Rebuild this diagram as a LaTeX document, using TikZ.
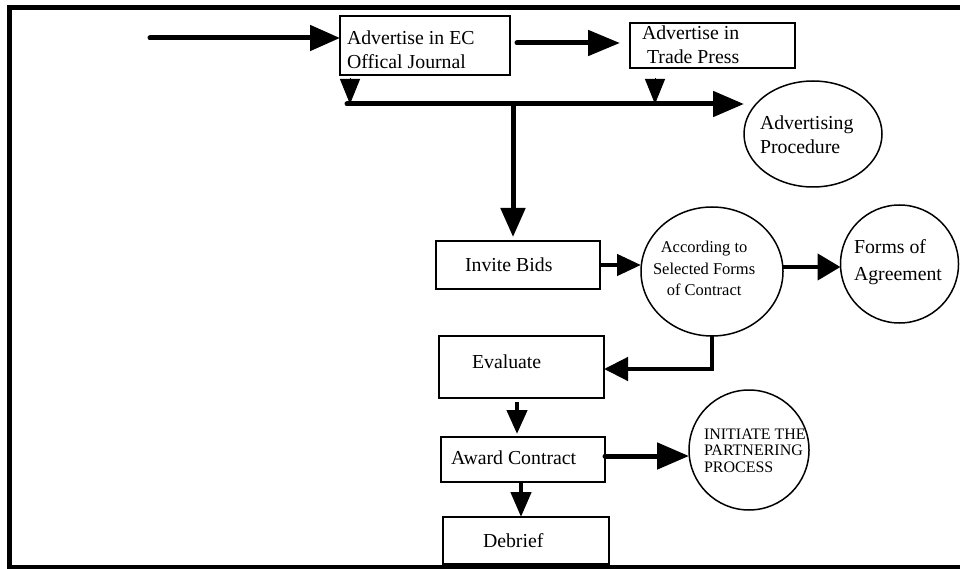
\documentclass[tikz,border=0pt]{standalone}
\usepackage{fontspec}
\setmainfont{Liberation Serif}
\usetikzlibrary{arrows.meta,shapes.geometric}
% text block whose first baseline sits #2 above the node centre, left edge #1 from it
\newcommand\placedtext[4]{\raisebox{#2}[0pt][0pt]{\makebox[0pt][l]{\hspace*{#1}\begin{tabular}[t]{@{}#3@{}}#4\end{tabular}}}}
\begin{document}
\begin{tikzpicture}[x=1pt,y=-1pt,
  bigtext/.style={font=\fontsize{19.8}{24}\selectfont},
  box/.style={draw,line width=1.5pt,rectangle,inner sep=0pt,outer sep=0pt,bigtext},
  oval/.style={draw,line width=1.5pt,ellipse,inner sep=0pt,outer sep=0pt},
  flow/.style={line width=5pt,line cap=round},
  link/.style={line width=4.5pt},
  drop/.style={line width=1pt,-{Triangle[length=25pt,width=20pt]}}
]
\useasboundingbox (0,0) rectangle (960,569);
\fill[white] (0,0) rectangle (960,569);

% outer frame (open to the right)
\draw[line width=5pt] (975,567) -- (9.5,567) -- (9.5,7.5) -- (975,7.5);

% process boxes
\node[box,minimum width=170pt,minimum height=59pt] (ecj) at (425,45.5)
  {\placedtext{-78pt}{0.5pt}{l}{Advertise in EC\\Offical Journal}};
\node[box,minimum width=165pt,minimum height=45pt] (trade) at (712.5,45.5)
  {\placedtext{-70.5pt}{6pt}{l}{Advertise in\\\hspace*{5pt}Trade Press}};
\node[box,minimum width=164pt,minimum height=48pt] (invite) at (518,265)
  {\placedtext{-53pt}{-6pt}{l}{Invite Bids}};
\node[box,minimum width=165pt,minimum height=62pt] (eval) at (521.5,367)
  {\placedtext{-49.5pt}{-1.5pt}{l}{Evaluate}};
\node[box,minimum width=164pt,minimum height=45pt] (award) at (523,459.5)
  {\placedtext{-72pt}{-4.5pt}{l}{Award Contract}};
\node[box,minimum width=166pt,minimum height=47pt] (debrief) at (526,540.5)
  {\placedtext{-43pt}{-6.5pt}{l}{Debrief}};

% outcome ovals
\node[oval,bigtext,minimum width=138pt,minimum height=106pt] (advp) at (813,134)
  {\placedtext{-53pt}{4pt}{l}{Advertising\\Procedure}};
\node[oval,font=\fontsize{16.5}{22}\selectfont,minimum width=142pt,minimum height=129pt] (acc) at (712,271.5)
  {\placedtext{-59pt}{19.5pt}{c}{According to\\Selected Forms\\of Contract}};
\node[oval,font=\fontsize{19.8}{26}\selectfont,minimum width=118pt,minimum height=118pt] (forms) at (899.5,264)
  {\placedtext{-45.5pt}{10pt}{l}{Forms of\\Agreement}};
\node[oval,font=\fontsize{16}{16.5}\selectfont,minimum width=120pt,minimum height=120pt] (init) at (749,450)
  {\placedtext{-45pt}{11pt}{l}{INITIATE THE\\PARTNERING\\PROCESS}};

% free ends of the advertising branch
\coordinate (start) at (150,38);
\coordinate (barL) at (347,104);

% advertising branch
\draw[flow,-{Triangle[length=30pt,width=25pt]}] (start) -- (start -| ecj.west);
\draw[flow,-{Triangle[length=32pt,width=25pt]}]
  ([xshift=7pt,yshift=2.5pt]ecj.east) -- ([xshift=-10pt,yshift=2.5pt]trade.west);
\draw[flow,-{Triangle[length=31pt,width=25pt]}] (barL) -- (barL -| advp.west);
\draw[drop,shorten <=3pt] ([xshift=10pt]ecj.south west) -- ([xshift=10pt]ecj.south west |- barL);
\draw[drop,shorten <=10pt] ([xshift=25pt]trade.south west) -- ([xshift=25pt]trade.south west |- barL);
\draw[flow,line cap=butt,-{Triangle[length=29pt,width=24pt]},shorten >=4pt]
  ([xshift=-5pt]invite.north |- barL) -- ([xshift=-5pt]invite.north);

% tendering sequence
\draw[link,-{Triangle[length=24pt,width=21pt]}] (invite.east) -- (invite.east -| acc.west);
\draw[link,-{Triangle[length=23pt,width=26pt]}]
  ([yshift=4.5pt]acc.east) -- ([yshift=4.5pt]acc.east -| forms.west);
\draw[link,-{Triangle[length=24pt,width=23pt]}] (acc.south) |- ([yshift=-2pt]eval.east);
\draw[link,-{Triangle[length=24pt,width=20pt]}]
  ([xshift=-4.5pt,yshift=-4pt]eval.south) -- ([xshift=-4.5pt,yshift=3pt]eval.south |- award.north);
\draw[flow,-{Triangle[length=32pt,width=26pt]}]
  ([yshift=3.5pt]award.east) -- ([yshift=3.5pt]award.east -| init.west);
\draw[link,-{Triangle[length=25pt,width=20pt]}]
  ([xshift=-2pt]award.south) -- ([xshift=-2pt]award.south |- debrief.north);
\end{tikzpicture}
\end{document}
